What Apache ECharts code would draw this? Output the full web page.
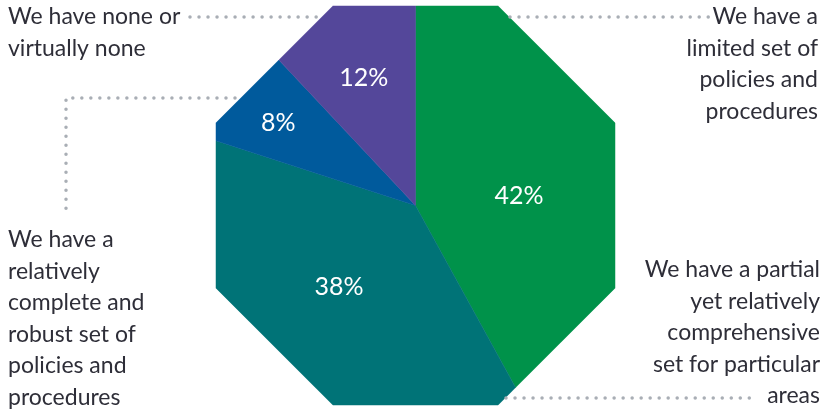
<!DOCTYPE html>
<html>
<head>
<meta charset="utf-8">
<script src="https://cdn.jsdelivr.net/npm/echarts@6/dist/echarts.min.js"></script>
<style>
  html, body { margin: 0; padding: 0; background: #fff; }
  #chart { width: 824px; height: 409px; }
</style>
</head>
<body>
<div id="chart"></div>
<script>
// data
const categories = [
  'We have a partial\nyet relatively\ncomprehensive\nset for particular\nareas',
  'We have a\nrelatively\ncomplete and\nrobust set of\npolicies and\nprocedures',
  'We have none or\nvirtually none',
  'We have a\nlimited set of\npolicies and\nprocedures'
];
const values = [42, 38, 8, 12];
const colors = ['#00924a', '#007377', '#005a9c', '#54479a'];

// octagon layout
const CX = 415.5, CY = 205.5, APOTHEM = 199.5;
// where each percentage sits: [angle from 12 o'clock, distance from centre]
const labelSpots = [[85, 104], [223, 112], [301, 160], [338, 138]];

const FONT = 'Lato, "Noto Sans", sans-serif';
const TEXT_COLOR = '#2e2e38';
const DOT = { stroke: '#a9aeb5', lineWidth: 3.5, lineDash: [0.01, 9], lineCap: 'round', fill: null };

const total = values.reduce((a, b) => a + b, 0);

function polar(deg, r) {
  const rad = deg * Math.PI / 180;
  return [CX + r * Math.sin(rad), CY - r * Math.cos(rad)];
}

// point on the octagon edge in direction deg (clockwise from top)
function edgePoint(deg) {
  const k = Math.round(deg / 45) * 45;
  const r = APOTHEM / Math.cos((deg - k) * Math.PI / 180);
  return polar(deg, r);
}

function renderItem(params, api) {
  const i = params.dataIndex;
  let before = 0;
  for (let j = 0; j < i; j++) before += values[j];
  const a0 = before / total * 360;
  const a1 = (before + api.value(0)) / total * 360;

  const pts = [[CX, CY], edgePoint(a0)];
  for (let v = 22.5; v < 360; v += 45) {
    if (v > a0 && v < a1) pts.push(edgePoint(v));
  }
  pts.push(edgePoint(a1));

  const lp = polar(labelSpots[i][0], labelSpots[i][1]);
  return {
    type: 'group',
    children: [
      {
        type: 'polygon',
        shape: { points: pts },
        style: { fill: colors[i], stroke: colors[i], lineWidth: 0.5 }
      },
      {
        type: 'text',
        z2: 10,
        style: {
          text: api.value(0) + '%',
          x: lp[0], y: lp[1],
          fill: '#fff',
          font: '25px ' + FONT,
          align: 'center',
          verticalAlign: 'middle'
        }
      }
    ]
  };
}

function label(text, x, y, align) {
  return {
    type: 'text',
    x: x, y: y,
    style: {
      text: text,
      fill: TEXT_COLOR,
      font: '23px ' + FONT,
      lineHeight: 31.5,
      align: align,
      verticalAlign: 'top'
    }
  };
}

function dots(points) {
  return { type: 'polyline', shape: { points: points }, style: DOT, z: 5 };
}

const chart = echarts.init(document.getElementById('chart'), null, { renderer: 'canvas' });

chart.setOption({
  animation: false,
  series: [{
    type: 'custom',
    coordinateSystem: 'none',
    renderItem: renderItem,
    data: values.map((v, i) => ({ name: categories[i], value: [v] }))
  }],
  graphic: [
    dots([[190, 17], [321, 17]]),
    dots([[235, 98], [66, 98], [66, 217]]),
    dots([[510, 17], [712, 17]]),
    dots([[506, 398], [757, 398]]),
    label(categories[2], 8, 1, 'left'),
    label(categories[3], 818, 1, 'right'),
    label(categories[1], 8, 224, 'left'),
    label(categories[0], 820, 254, 'right')
  ]
});

window.addEventListener('resize', () => chart.resize());
</script>
</body>
</html>
